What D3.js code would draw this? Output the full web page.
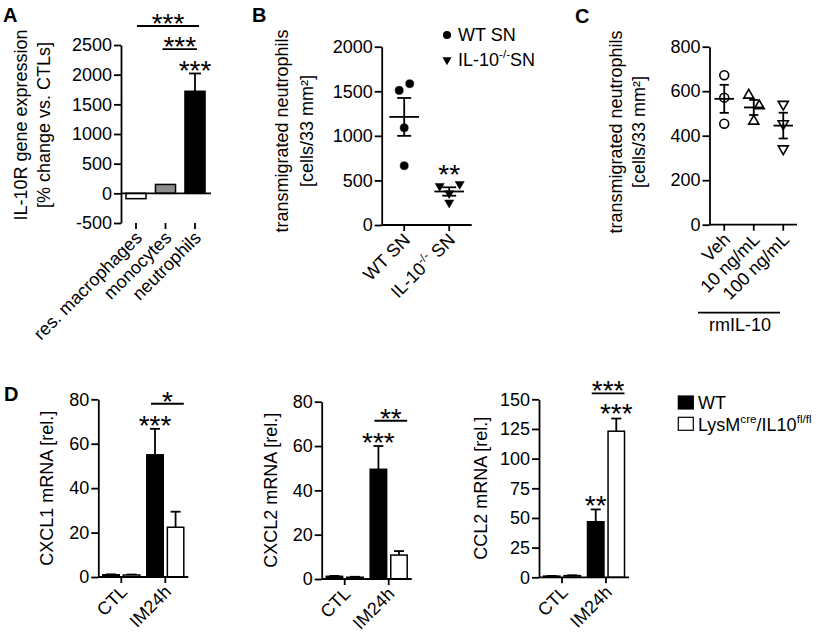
<!DOCTYPE html>
<html>
<head>
<meta charset="utf-8">
<script src="https://cdn.jsdelivr.net/npm/d3@7"></script>
<style>
  body { margin: 0; background: #fff; }
</style>
</head>
<body>
<svg id="fig" width="820" height="633"></svg>
<script>
// ---------- data ----------
// A: IL-10R expression
const aCategories = ['res. macrophages', 'monocytes', 'neutrophils']
const aValues = [-90, 150, 1720]
const aErrors = [10, 8, 300]
const aTicks = [-500, 0, 500, 1000, 1500, 2000, 2500]
const aBrackets = [
    { from: 'res. macrophages', to: 'neutrophils', label: '***', at: 2820 },
    { from: 'monocytes', to: 'neutrophils', label: '***', at: 2430 },
]

// B: transmigration with supernatants
const bGroups = ['WT SN', 'IL-10^-/-^ SN']
const bWT = [1510, 1585, 1090, 665]
const bKO = [437, 459, 356, 251]
const bTicks = [0, 500, 1000, 1500, 2000]
const bLegend = ['WT SN', 'IL-10^-/-^SN']

// C: recombinant IL-10
const cGroups = ['Veh', '10 ng/mL', '100 ng/mL']
const cVeh = [672, 571, 454]
const c10 = [582, 534, 465]
const c100 = [541, 454, 341]
const cTicks = [0, 200, 400, 600, 800]

// D: chemokine mRNA
const dGroups = ['CTL', 'IM24h']
const dSeries = ['WT', 'LysM^cre^/IL10^fl/fl^']
const cxcl1WT = [1.0, 55], cxcl1WTErr = [0.2, 11.7]
const cxcl1KO = [0.9, 22.4], cxcl1KOErr = [0.2, 7.0]
const cxcl2WT = [1.2, 49.5], cxcl2WTErr = [0.2, 10.5]
const cxcl2KO = [0.8, 10.8], cxcl2KOErr = [0.2, 1.8]
const ccl2WT = [1.0, 46.8], ccl2WTErr = [0.2, 10.4]
const ccl2KO = [1.4, 123.1], ccl2KOErr = [0.3, 10.7]
const cxclTicks = [0, 20, 40, 60, 80]
const ccl2Ticks = [0, 25, 50, 75, 100, 125, 150]

// ---------- setup ----------
const FONT = '"Liberation Sans", Arial, Helvetica, sans-serif'
const FS = 18
const SW = 1.8
const svg = d3.select('#fig').attr('font-family', FONT)

// text with ^superscript^ parts
function rich(t, str, size) {
    let shifted = false
    str.split('^').forEach((p, i) => {
        const sup = i % 2 === 1
        if (!p) return
        let dy = 0
        if (sup && !shifted) { dy = -0.42 * size; shifted = true }
        if (!sup && shifted) { dy = 0.42 * size; shifted = false }
        t.append('tspan')
            .attr('dy', dy || null)
            .attr('font-size', sup ? size * 0.65 : null)
            .text(p)
    })
    return t
}

function styleAxis(g) {
    g.attr('font-size', FS).attr('font-family', FONT)
    g.selectAll('path, line').attr('stroke', '#000').attr('stroke-width', SW)
    g.selectAll('text').attr('fill', '#000')
}

function yAxis(y, ticks, x0) {
    svg.append('g')
        .attr('transform', `translate(${x0},0)`)
        .call(d3.axisLeft(y).tickValues(ticks).tickSize(7).tickPadding(2)
            .tickSizeOuter(0).tickFormat(d => String(d)))
        .call(styleAxis)
}

function xAxis(x, lineY, x1, x2, tickY) {
    svg.append('line')
        .attr('x1', x1).attr('x2', x2).attr('y1', lineY).attr('y2', lineY)
        .attr('stroke', '#000').attr('stroke-width', SW)
    svg.append('g')
        .attr('transform', `translate(0,${tickY})`)
        .call(d3.axisBottom(x).tickSize(6).tickFormat(''))
        .call(g => g.select('.domain').remove())
        .call(styleAxis)
    // rotated category labels
    x.domain().forEach(name => {
        const cx = x(name) + x.bandwidth() / 2
        const t = svg.append('text')
            .attr('transform', `translate(${cx + 7},${tickY + 16}) rotate(-45)`)
            .attr('text-anchor', 'end')
            .attr('font-size', FS)
        rich(t, name, FS)
    })
}

function yLabel(lines, xs, cy) {
    lines.forEach((ln, i) => {
        const t = svg.append('text')
            .attr('transform', `translate(${xs[i]},${cy}) rotate(-90)`)
            .attr('text-anchor', 'middle')
            .attr('font-size', FS)
        rich(t, ln, FS)
    })
}

function panelLetter(s, x, y) {
    svg.append('text').attr('x', x).attr('y', y)
        .attr('font-size', 20).attr('font-weight', 'bold').text(s)
}

// asterisks: vertically centred on cy
function stars(label, cx, cy) {
    svg.append('text').attr('x', cx).attr('y', cy + 16)
        .attr('text-anchor', 'middle').attr('font-size', 28).text(label)
}

function bracket(label, x1, x2, y) {
    svg.append('line').attr('x1', x1).attr('x2', x2).attr('y1', y).attr('y2', y)
        .attr('stroke', '#000').attr('stroke-width', SW)
    stars(label, (x1 + x2) / 2, y - 9)
}

function errorBar(cx, yFrom, yTo, capW) {
    svg.append('line').attr('x1', cx).attr('x2', cx).attr('y1', yFrom).attr('y2', yTo)
        .attr('stroke', '#000').attr('stroke-width', SW)
    svg.append('line').attr('x1', cx - capW / 2).attr('x2', cx + capW / 2)
        .attr('y1', yTo).attr('y2', yTo)
        .attr('stroke', '#000').attr('stroke-width', SW)
}

// ---------- A ----------
const yA = d3.scaleLinear().domain([-500, 2500]).range([223, 45])
const xA = d3.scaleBand().domain(aCategories).range([121.25, 209.75])
const aFill = ['#fff', '#8e8e8e', '#000']
const barWA = xA.bandwidth() * 0.68

aCategories.forEach((c, i) => {
    const v = aValues[i]
    const cx = xA(c) + xA.bandwidth() / 2
    const e = v >= 0 ? v + aErrors[i] : v - aErrors[i]
    if (aErrors[i] > 50) errorBar(cx, yA(v), yA(e), 12)
    svg.append('rect')
        .attr('x', cx - barWA / 2).attr('width', barWA)
        .attr('y', yA(Math.max(v, 0)))
        .attr('height', Math.abs(yA(v) - yA(0)))
        .attr('fill', aFill[i]).attr('stroke', '#000').attr('stroke-width', 1.5)
})
yAxis(yA, aTicks, 121)
xAxis(xA, yA(0), 121, 211, yA(-500))
yLabel(['IL-10R gene expression', '[% change vs. CTLs]'], [27, 50], 125)
panelLetter('A', 3, 22)

{
    const cx = xA('neutrophils') + xA.bandwidth() / 2
    stars('***', cx, yA(aValues[2] + aErrors[2]) - 9.5)
    const c = n => xA(n) + xA.bandwidth() / 2
    bracket(aBrackets[0].label, c(aBrackets[0].from) + 1, c(aBrackets[0].to) + 4, yA(aBrackets[0].at))
    bracket(aBrackets[1].label, c(aBrackets[1].from) - 3, c(aBrackets[1].to) + 2, yA(aBrackets[1].at))
}

// ---------- scatter helpers (B, C) ----------
function scatterGroup(x, y, group, values, dx, sym, filled, flip, size) {
    const cx = x(group) + x.bandwidth() / 2
    values.forEach((v, i) => {
        svg.append('path')
            .attr('d', d3.symbol().type(sym).size(size)())
            .attr('transform', `translate(${cx + dx[i]},${y(v)})${flip ? ' rotate(180)' : ''}`)
            .attr('fill', filled ? '#000' : 'none')
            .attr('stroke', '#000').attr('stroke-width', filled ? 0.5 : 1.6)
    })
    const m = d3.mean(values)
    const sem = d3.deviation(values) / Math.sqrt(values.length)
    const step = x.step()
    const mw = step * 0.66, cw = step * 0.31
    const line = (x1, x2, y1, y2) => svg.append('line')
        .attr('x1', x1).attr('x2', x2).attr('y1', y1).attr('y2', y2)
        .attr('stroke', '#000').attr('stroke-width', SW)
    line(cx - mw / 2, cx + mw / 2, y(m), y(m))
    line(cx, cx, y(m - sem), y(m + sem))
    line(cx - cw / 2, cx + cw / 2, y(m + sem), y(m + sem))
    line(cx - cw / 2, cx + cw / 2, y(m - sem), y(m - sem))
    return cx
}

// ---------- B ----------
const yB = d3.scaleLinear().domain([0, 2000]).range([225, 46.7])
const xB = d3.scaleBand().domain(bGroups).range([381.7, 471.7])
const bWTdx = [-5, 5.5, 0, 0]
const bKOdx = [-9.5, 10.5, 0, 0]
scatterGroup(xB, yB, bGroups[0], bWT, bWTdx, d3.symbolCircle, true, false, 52)
const bKOx = scatterGroup(xB, yB, bGroups[1], bKO, bKOdx, d3.symbolTriangle, true, true, 36)
yAxis(yB, bTicks, 381.7)
xAxis(xB, 225, 381.7, 471.7, 225)
yLabel(['transmigrated neutrophils', '[cells/33 mm²]'], [288, 313], 131)
panelLetter('B', 252, 22)
stars('**', bKOx, yB(d3.max(bKO)) - 16)

// legend B
svg.append('path').attr('d', d3.symbol().type(d3.symbolCircle).size(52)())
    .attr('transform', 'translate(447,35)').attr('fill', '#000')
svg.append('path').attr('d', d3.symbol().type(d3.symbolTriangle).size(36)())
    .attr('transform', 'translate(447,60) rotate(180)').attr('fill', '#000')
rich(svg.append('text').attr('x', 458).attr('y', 40.5).attr('font-size', FS), bLegend[0], FS)
rich(svg.append('text').attr('x', 458).attr('y', 66).attr('font-size', FS), bLegend[1], FS)

// ---------- C ----------
const yC = d3.scaleLinear().domain([0, 800]).range([224.7, 46.7])
const xC = d3.scaleBand().domain(cGroups).range([709.5, 798])
scatterGroup(xC, yC, cGroups[0], cVeh, [0, 0, 0], d3.symbolCircle, false, false, 62)
scatterGroup(xC, yC, cGroups[1], c10, [-5, 5.5, 0], d3.symbolTriangle, false, false, 44)
scatterGroup(xC, yC, cGroups[2], c100, [0, 0, 0], d3.symbolTriangle, false, true, 44)
yAxis(yC, cTicks, 709.5)
xAxis(xC, 224.7, 709.5, 797, 224.7)
yLabel(['transmigrated neutrophils', '[cells/33 mm²]'], [621.5, 645], 132)
panelLetter('C', 575, 23)
svg.append('line').attr('x1', 698).attr('x2', 780).attr('y1', 312.7).attr('y2', 312.7)
    .attr('stroke', '#000').attr('stroke-width', SW)
svg.append('text').attr('x', 740).attr('y', 331).attr('text-anchor', 'middle')
    .attr('font-size', FS).text('rmIL-10')

// ---------- D ----------
const dPanels = [
    { label: 'CXCL1 mRNA [rel.]', wt: cxcl1WT, wtErr: cxcl1WTErr, ko: cxcl1KO, koErr: cxcl1KOErr,
      max: 80, ticks: cxclTicks, wtStar: '***', koStar: null, br: { label: '*', at: 78 } },
    { label: 'CXCL2 mRNA [rel.]', wt: cxcl2WT, wtErr: cxcl2WTErr, ko: cxcl2KO, koErr: cxcl2KOErr,
      max: 80, ticks: cxclTicks, wtStar: '***', koStar: null, br: { label: '**', at: 71.4 } },
    { label: 'CCL2 mRNA [rel.]', wt: ccl2WT, wtErr: ccl2WTErr, ko: ccl2KO, koErr: ccl2KOErr,
      max: 150, ticks: ccl2Ticks, wtStar: '**', koStar: '***', br: { label: '***', at: 155 } },
]
const dLayout = [
    { x0: 98.3, top: 399.3, bottom: 577, labelX: 53 },
    { x0: 321.7, top: 401.7, bottom: 579, labelX: 276.5 },
    { x0: 539, top: 399.3, bottom: 577.3, labelX: 486.5 },
]
const dFill = ['#000', '#fff']

dPanels.forEach((p, k) => {
    const L = dLayout[k]
    const y = d3.scaleLinear().domain([0, p.max]).range([L.bottom, L.top])
    const x = d3.scaleBand().domain(dGroups).range([L.x0 + 1, L.x0 + 89])
    const xs = d3.scaleBand().domain(dSeries).range([-18.5, 18.5]).paddingInner(0.2)
    const bw = xs.bandwidth()
    const series = [[p.wt, p.wtErr], [p.ko, p.koErr]]
    const topOf = {}
    series.forEach(([vals, errs], s) => {
        dGroups.forEach((g, i) => {
            const cx = x(g) + x.bandwidth() / 2 + xs(dSeries[s]) + bw / 2
            errorBar(cx, y(vals[i]), y(vals[i] + errs[i]), 10)
            svg.append('rect')
                .attr('x', cx - bw / 2).attr('width', bw)
                .attr('y', y(vals[i])).attr('height', y(0) - y(vals[i]))
                .attr('fill', dFill[s]).attr('stroke', '#000').attr('stroke-width', 1.5)
            topOf[s + g] = { cx, y: y(vals[i] + errs[i]) }
        })
    })
    yAxis(y, p.ticks, L.x0)
    xAxis(x, L.bottom, L.x0, L.x0 + 90, L.bottom)
    yLabel([p.label], [L.labelX], (L.top + L.bottom) / 2)

    const wt = topOf['0IM24h'], ko = topOf['1IM24h']
    if (p.wtStar) stars(p.wtStar, wt.cx, wt.y - 10)
    if (p.koStar) stars(p.koStar, ko.cx, ko.y - 12)
    bracket(p.br.label, wt.cx - 4, ko.cx + bw / 2, y(p.br.at))
})
panelLetter('D', 4, 401)

// legend D
svg.append('rect').attr('x', 678.3).attr('y', 396).attr('width', 15).attr('height', 13)
    .attr('fill', dFill[0]).attr('stroke', '#000').attr('stroke-width', 1.2)
svg.append('rect').attr('x', 678.3).attr('y', 417.3).attr('width', 15).attr('height', 13)
    .attr('fill', dFill[1]).attr('stroke', '#000').attr('stroke-width', 1.2)
rich(svg.append('text').attr('x', 698).attr('y', 409).attr('font-size', FS), dSeries[0], FS)
rich(svg.append('text').attr('x', 698).attr('y', 431).attr('font-size', FS), dSeries[1], FS)
</script>
</body>
</html>
